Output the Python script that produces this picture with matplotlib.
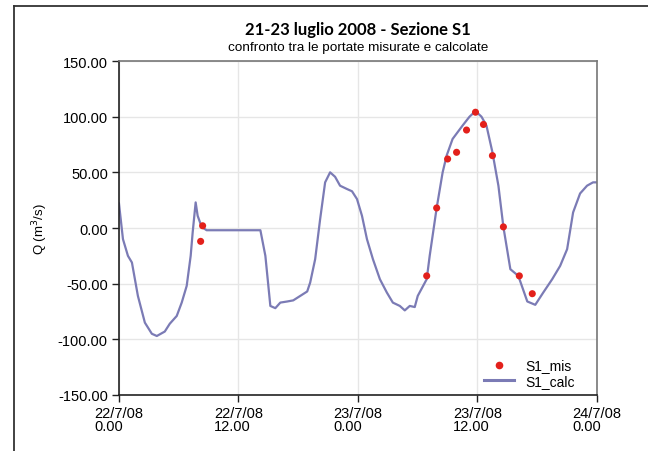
import numpy as np
import matplotlib
matplotlib.use("Agg")
import matplotlib.pyplot as plt
from matplotlib.lines import Line2D

# ---
# Portate calcolate (ore da 22/7/08 0.00, m3/s)

calc_hours = [0.0, 0.4, 0.9, 1.3, 1.9, 2.6, 3.3, 3.8, 4.6, 5.1, 5.8, 6.3, 6.8, 7.2, 7.4,
              7.7, 7.9, 8.3, 8.8, 14.2, 14.7, 15.2, 15.7, 16.2, 16.9, 17.5, 18.2, 18.9,
              19.2, 19.7, 20.2, 20.7, 21.2, 21.7, 22.2, 22.9, 23.4, 23.9, 24.4, 24.9,
              25.5, 26.2, 26.9, 27.5, 28.2, 28.7, 29.2, 29.7, 30.0, 30.9, 31.2, 31.9,
              32.5, 32.9, 33.5, 34.5, 35.2, 35.8, 36.4, 36.9, 37.5, 38.1, 38.6, 39.3,
              40.1, 41.0, 41.8, 42.6, 43.5, 44.3, 45.0, 45.6, 46.3, 47.0, 47.6, 48.0]
calc_q = [22, -10, -25, -31, -61, -85, -95, -97, -93, -86, -79, -67, -52, -25, -4,
          23, 11, 1, -2, -2, -25, -70, -72, -67, -66, -65, -61, -57,
          -49, -28, 8, 41, 50, 46, 38, 35, 33, 26, 11, -10,
          -28, -46, -58, -67, -70, -74, -70, -71, -61, -46, -25, 18,
          50, 65, 80, 92, 100, 105, 100, 92, 68, 38, 1, -37,
          -43, -66, -69, -58, -46, -34, -19, 14, 31, 38, 41, 41]

# Portate misurate
mis_hours = [8.4, 8.2, 30.9, 31.9, 33.0, 33.9, 34.9, 35.8, 36.6, 37.5, 38.6, 40.2, 41.5]
mis_q = [2, -12, -43, 18, 62, 68, 88, 104, 93, 65, 1, -43, -59]

tick_hours = [0, 12, 24, 36, 48]
tick_labels = ["22/7/08\n0.00", "22/7/08\n12.00", "23/7/08\n0.00",
               "23/7/08\n12.00", "24/7/08\n0.00"]
y_ticks = [-150, -100, -50, 0, 50, 100, 150]

plt.rcParams["font.family"] = ["Liberation Sans", "DejaVu Sans"]

fig = plt.figure(figsize=(6.48, 4.52), dpi=100)
ax = fig.add_axes([0.1836, 0.1239, 0.7377, 0.7389])

# cornice esterna (solo lati sinistro e superiore)
fig.add_artist(Line2D([14 / 648, 14 / 648], [0, 1 - 7 / 452], transform=fig.transFigure,
                      color="#333333", lw=1.3))
fig.add_artist(Line2D([14 / 648, 1], [1 - 7 / 452, 1 - 7 / 452], transform=fig.transFigure,
                      color="#333333", lw=1.3))

ax.plot(calc_hours, calc_q, color="#7b7bb5", lw=1.6, label="S1_calc", zorder=2)
ax.scatter(mis_hours, mis_q, s=26, color="#e3201b", edgecolors="none", label="S1_mis", zorder=3)

ax.set_xlim(0, 48)
ax.set_ylim(-150, 150)
ax.set_xticks(tick_hours)
ax.set_xticklabels(tick_labels, fontsize=10.5, linespacing=0.9)
for lab in ax.get_xticklabels():
    lab.set_multialignment("left")
ax.set_yticks(y_ticks)
ax.set_yticklabels([f"{v:.2f}" for v in y_ticks], fontsize=10.5)
ax.tick_params(direction="out", length=5, width=1, color="#222222", pad=3)
ax.grid(True, color="#e6e6e6", lw=1)
ax.set_axisbelow(True)

for side in ["left", "bottom"]:
    ax.spines[side].set_color("#222222")
    ax.spines[side].set_linewidth(1.2)
for side in ["right", "top"]:
    ax.spines[side].set_color("#777777")
    ax.spines[side].set_linewidth(1.2)

ax.set_ylabel("Q (m$^3$/s)", fontsize=9.5, labelpad=6)

fig.text(358 / 648, 1 - 30 / 452, "21-23 luglio 2008 - Sezione S1", ha="center", va="center",
         fontsize=12, fontweight="bold", family=["Lato", "DejaVu Sans"])
fig.text(358 / 648, 1 - 48 / 452, "confronto tra le portate misurate e calcolate", ha="center",
         va="center", fontsize=9.7)

handles = [
    Line2D([0], [0], marker="o", color="none", markerfacecolor="#e3201b",
           markeredgecolor="none", markersize=5.5),
    Line2D([0], [0], color="#7b7bb5", lw=2.2),
]
ax.legend(handles, ["S1_mis", "S1_calc"], loc="lower right", frameon=False, fontsize=10,
          handlelength=2.2, labelspacing=0.1, borderaxespad=0.0,
          bbox_to_anchor=(0.965, 0.005))

fig.savefig("out.png", dpi=100)
